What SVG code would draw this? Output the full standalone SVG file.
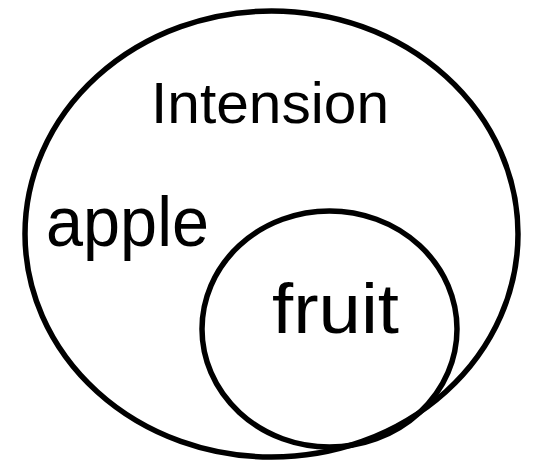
<svg xmlns="http://www.w3.org/2000/svg" width="534" height="462" viewBox="0 0 534 462">
<style>
.set{fill:none;stroke:#000;stroke-width:5.5}
.lbl{font-family:"Liberation Sans",Arial,sans-serif;fill:#000}
</style>
<rect width="534" height="462" fill="#fff"/>
<g id="intension">
<ellipse class="set" cx="271.5" cy="234" rx="246.5" ry="223"/>
<text class="lbl" x="151" y="123" font-size="58" textLength="238" lengthAdjust="spacingAndGlyphs">Intension</text>
<text class="lbl" x="46" y="246" font-size="70" textLength="163" lengthAdjust="spacingAndGlyphs">apple</text>
</g>
<g id="fruit">
<ellipse class="set" cx="329.5" cy="329" rx="127.5" ry="118"/>
<text class="lbl" x="272" y="333" font-size="70" textLength="127" lengthAdjust="spacingAndGlyphs">fruit</text>
</g>
<g id="connectors"/>
</svg>
